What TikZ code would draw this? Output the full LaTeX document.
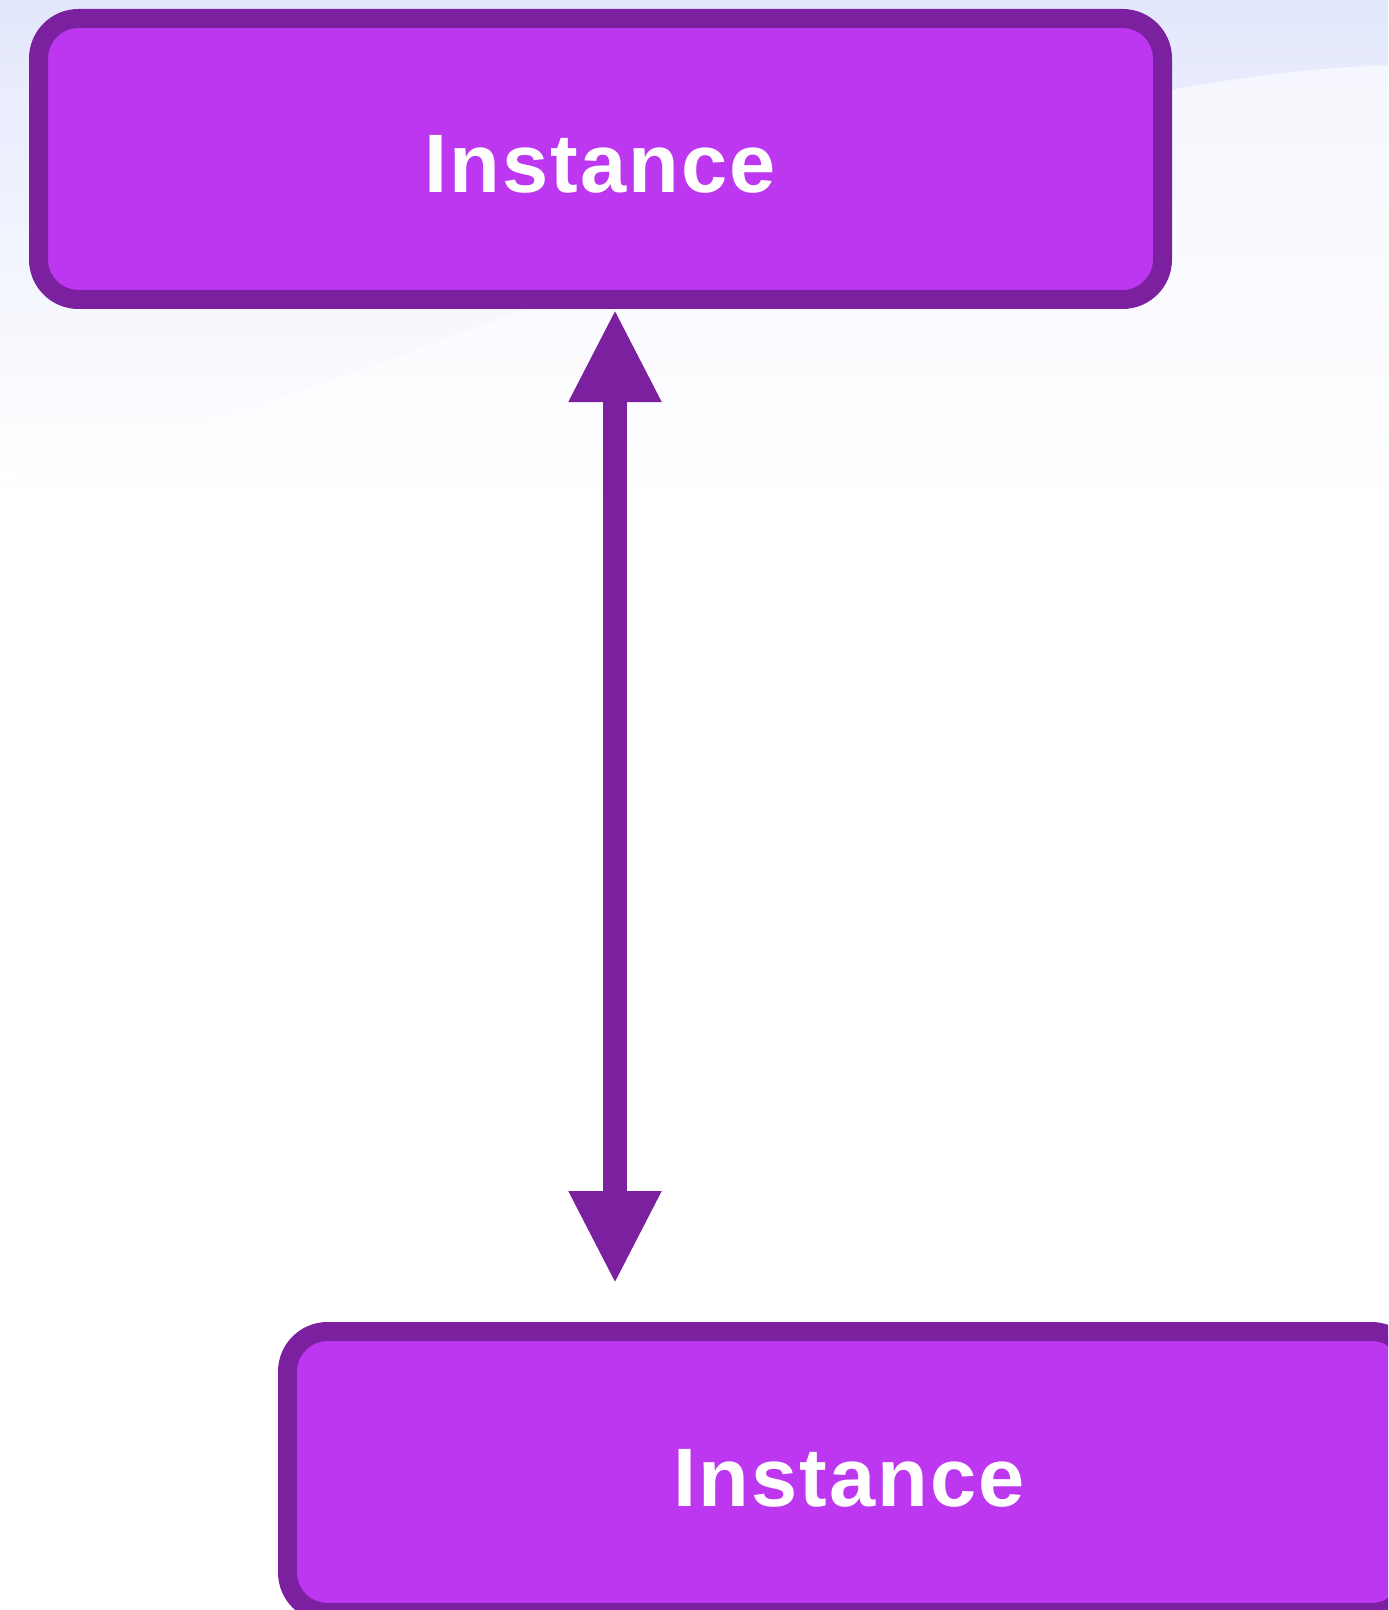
\documentclass[tikz,border=0pt]{standalone}
\usepackage{fontspec}
\setmainfont{Liberation Sans}
\newfontfamily\instfont[LetterSpace=2.5]{Liberation Sans}
\usetikzlibrary{arrows.meta}
\definecolor{boxfill}{HTML}{BD37F0}
\definecolor{boxline}{HTML}{7B219F}
\definecolor{lav}{HTML}{E2E7FC}
\definecolor{lavlight}{HTML}{F4F6FE}
\tikzset{
  inst/.style={draw=boxline, fill=boxfill, line width=9.5pt, rounded corners=20pt,
    minimum width=562pt, minimum height=140.5pt, inner sep=0pt,
    text height=34pt, text depth=0pt,
    text=white, font=\instfont\fontsize{41.5}{49}\selectfont\bfseries},
  conn/.style={draw=boxline, line width=12pt,
    {Triangle[width=43pt,length=46.5pt]}-{Triangle[width=43pt,length=46.5pt]}}
}
\begin{document}
\begin{tikzpicture}[x=0.5pt,y=-0.5pt]
\useasboundingbox (0,0) rectangle (1388,1610);
\clip (0,0) rectangle (1388,1610);
\fill[white] (0,0) rectangle (1388,1610);
% background wash
\shade[top color=lavlight, bottom color=white]
  (0,0) rectangle (1388,520);
\shade[top color=lav, bottom color=white, middle color=lav!45!white]
  (0,0) -- (1388,0) -- (1388,65) .. controls (1200,72) and (1000,120) .. (800,200)
  .. controls (500,320) and (250,420) .. (0,480) -- cycle;
\shade[top color=lav, bottom color=lav!70!white]
  (0,0) -- (1388,0) -- (1388,65) .. controls (1250,68) and (1150,85) .. (1000,120)
  -- (0,120) -- cycle;
\node[inst] (a) at (600.5,159) {Instance};
\node[inst] (b) at (849.5,1472) {Instance};
\coordinate (ax) at (615,0);
\draw[conn] (a.south -| ax) -- ([yshift=19pt]b.north -| ax);
\end{tikzpicture}
\end{document}
